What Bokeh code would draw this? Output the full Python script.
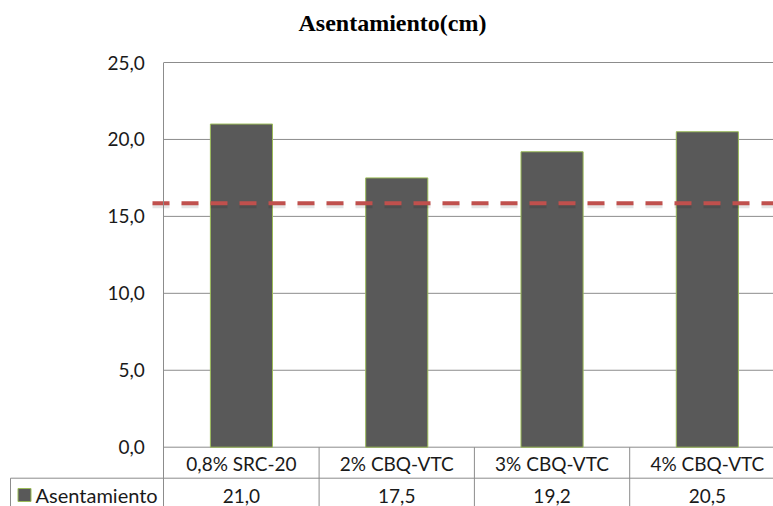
from bokeh.plotting import figure
from bokeh.models import LinearAxis, FixedTicker, ColumnDataSource
from bokeh.core.properties import value
from bokeh.embed import file_html
from bokeh.resources import INLINE

# ---- data ----
categories = ["0,8% SRC-20", "2% CBQ-VTC", "3% CBQ-VTC", "4% CBQ-VTC"]
values = [21.0, 17.5, 19.2, 20.5]
series_name = "Asentamiento"
title_text = "Asentamiento(cm)"
threshold = 15.85
y_ticks = [0, 5, 10, 15, 20, 25]
y_tick_labels = ["0,0", "5,0", "10,0", "15,0", "20,0", "25,0"]

# ---- layout (pixel geometry of the reference) ----
W, H = 773, 506
px_x = 155.3          # pixels per category
x0_px = 163.3         # pixel of category axis start
y0_px = 446.7         # pixel of value 0
px_y = (446.7 - 62.0) / 25.0

x_start = -x0_px / px_x
x_end = (W - x0_px) / px_x
y_start = -(H - y0_px) / px_y
y_end = 25 + 62.0 / px_y

def dx(px):
    return (px - x0_px) / px_x

def dy(px):
    return (y0_px - px) / px_y

FONT = "Lato"
GRID = "#8c8c8c"

p = figure(width=W, height=H, x_range=(x_start, x_end), y_range=(y_start, y_end),
           x_axis_location=None, y_axis_location=None, toolbar_location=None,
           output_backend="svg", min_border=0, outline_line_color=None)
p.grid.visible = False

n = len(categories)
xs = [i + 0.5 for i in range(n)]

# y axis at x=0 inside the frame
yax = LinearAxis(fixed_location=0, ticker=FixedTicker(ticks=y_ticks),
                 bounds=(y_start, y_ticks[-1]))
yax.major_label_overrides = {float(t): l for t, l in zip(y_ticks, y_tick_labels)}
yax.axis_line_color = GRID
yax.major_tick_line_color = None
yax.minor_tick_line_color = None
yax.major_tick_out = 0
yax.major_tick_in = 0
yax.major_label_standoff = 19
yax.major_label_text_font = FONT
yax.major_label_text_font_size = "19px"
yax.major_label_text_color = "#1a1a1a"
p.add_layout(yax, "left")

# gridlines
p.segment(x0=[0] * len(y_ticks), x1=[n + 0.3] * len(y_ticks), y0=y_ticks, y1=y_ticks,
          line_color=GRID, line_width=1)

# bars
p.vbar(x=xs, top=values, bottom=0, width=0.40, fill_color="#595959",
       line_color="#9BBB59", line_width=1)

# threshold line (with soft shadow)
p.segment(x0=[dx(152)], x1=[n + 0.3], y0=[threshold - 2.5 / px_y], y1=[threshold - 2.5 / px_y],
          line_color="#000000", line_alpha=0.10, line_width=5, line_dash="17 12")
p.segment(x0=[dx(152)], x1=[n + 0.3], y0=[threshold], y1=[threshold],
          line_color="#C0504D", line_width=4, line_dash="17 12")

# data table lines
row_y = dy(477.7)
p.segment(x0=list(range(1, n + 1)), x1=list(range(1, n + 1)),
          y0=[0] * n, y1=[y_start] * n, line_color=GRID, line_width=1)
p.segment(x0=[dx(10)], x1=[n + 0.3], y0=[row_y], y1=[row_y], line_color=GRID, line_width=1)
p.segment(x0=[dx(10)], x1=[dx(10)], y0=[row_y], y1=[y_start], line_color=GRID, line_width=1)

# category labels
cat_src = ColumnDataSource(dict(x=xs, y=[dy(462.5)] * n, t=categories))
p.text(x="x", y="y", text="t", source=cat_src, text_align="center", text_baseline="middle",
       text_font=value(FONT), text_font_size="19px", text_color="#1a1a1a")

# value labels
val_src = ColumnDataSource(dict(x=xs, y=[dy(495)] * n,
                                t=[f"{v:.1f}".replace(".", ",") for v in values]))
p.text(x="x", y="y", text="t", source=val_src, text_align="center", text_baseline="middle",
       text_font=value(FONT), text_font_size="19px", text_color="#1a1a1a")

# legend key + series name
p.scatter(x=[dx(24)], y=[dy(494.5)], marker="square", size=13,
          fill_color="#595959", line_color="#9BBB59", line_width=1)
p.text(x=[dx(35)], y=[dy(494.5)], text=[series_name], text_align="left", text_baseline="middle",
       text_font=value(FONT), text_font_size="20px", text_color="#1a1a1a")

# title
p.text(x=[dx(392)], y=[dy(22)], text=[title_text], text_align="center", text_baseline="middle",
       text_font=value("Liberation Serif"), text_font_style="bold", text_font_size="24px",
       text_color="#000000")

open("out.html", "w").write(file_html(p, INLINE))
